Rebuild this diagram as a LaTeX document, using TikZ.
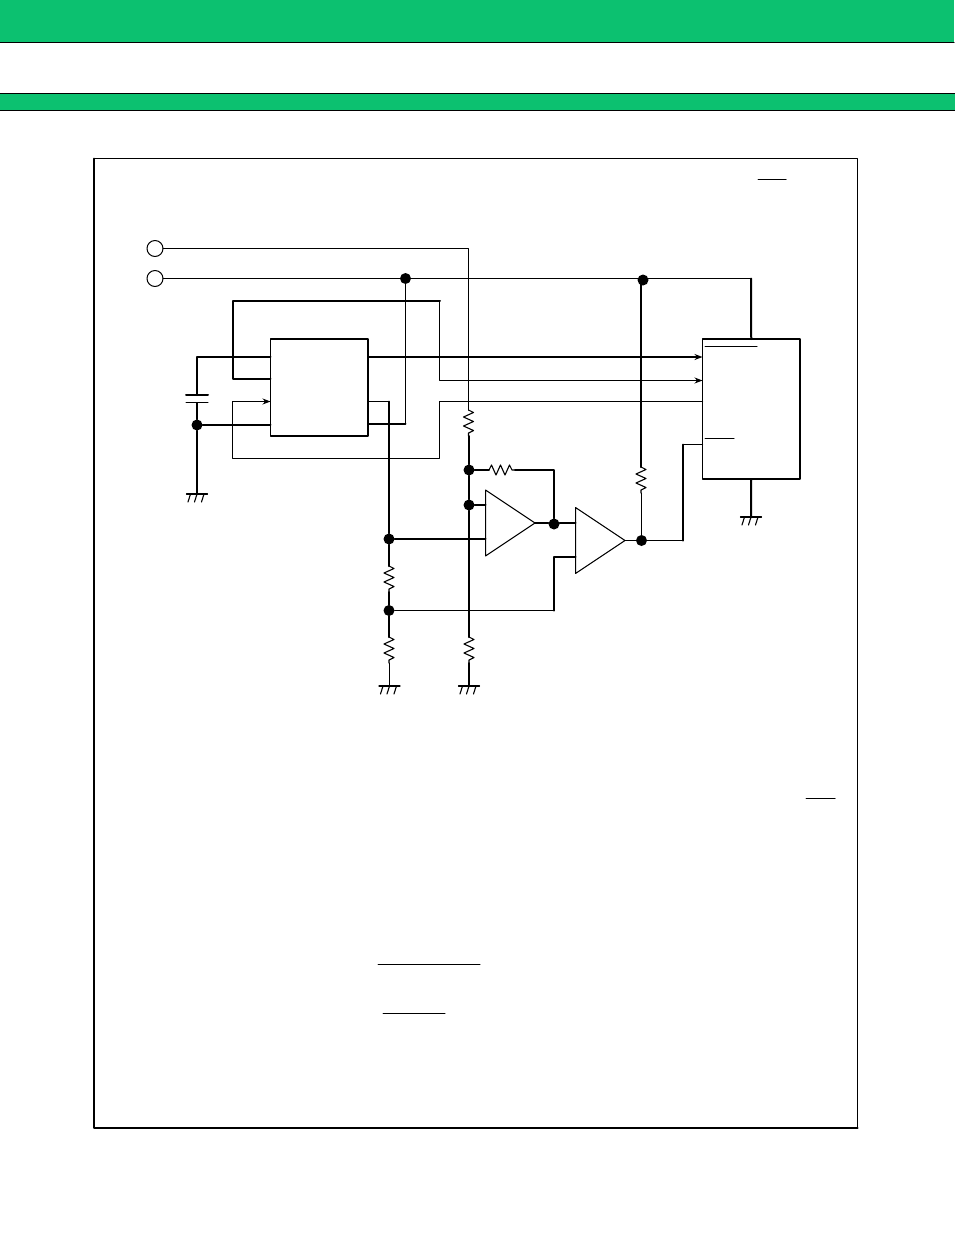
\documentclass[tikz,border=0pt]{standalone}
\usetikzlibrary{arrows.meta}
\definecolor{bandgreen}{RGB}{12,193,112}
\tikzset{
	wire/.style={line width=1pt},
	bus/.style={line width=2pt},
	dot/.style={circle,fill=black,inner sep=0pt,minimum size=11pt},
	term/.style={circle,draw,line width=1pt,inner sep=0pt,outer sep=0pt,minimum size=16pt},
	blockbox/.style={draw,line width=1.6pt,inner sep=0pt,outer sep=0pt,anchor=north west},
	res/.pic={
		\draw[line width=1.1pt] (0,0) -- (5,2.5) -- (-5,7) -- (5,11.5) -- (-5,16) -- (5,20.5) -- (0,23) -- (0,26);
	},
	gnd/.pic={
		\draw[line width=1.3pt] (-10.5,0) -- (10.5,0);
		\draw[line width=1.1pt] (-6.5,0) -- (-9,8) (0,0) -- (-2.5,8) (7,0) -- (4.5,8);
	},
	amp/.pic={
		\draw[line width=1pt] (0,-33) -- (49.5,0) -- (0,33) -- cycle;
	}
}
\begin{document}
\begin{tikzpicture}[x=1pt,y=-1pt,line join=round,line cap=round,>={Stealth[length=8pt,width=6pt]}]
	\useasboundingbox (0,0) rectangle (954,1235);
	% bands and frame
	\fill[bandgreen] (0,0) rectangle (954,42);
	\draw[line width=1pt] (0,42) -- (954,42);
	\draw[line width=1pt,fill=bandgreen] (-2,93.5) rectangle (956,110);
	\draw[line width=1pt] (94,158.5) rectangle (857.5,1128);
	\draw[line width=2pt] (94,158.5) -- (94,1128) -- (857.5,1128);
	\draw[wire] (758,179) -- (786,179) (806,798.5) -- (835,798.5);
	\draw[wire] (378,964) -- (480,964) (383,1013) -- (445,1013);

	% boxes and terminals
	\node[blockbox,minimum width=97.5pt,minimum height=97pt] (ctl) at (270.5,339) {};
	\node[blockbox,minimum width=97.5pt,minimum height=140pt] (drv) at (702.5,339) {};
	\node[term] (tera) at (155,248.5) {};
	\node[term] (terb) at (155,278.5) {};
	\draw[wire] (705,346) -- (757,346) (705,438) -- (734,438);

	% junctions
	\node[dot] (dvin) at (405.5,278.5) {};
	\node[dot] (dtop) at (643,280) {};
	\node[dot] (dcap) at (197,425) {};
	\node[dot] (dfb) at (469,470) {};
	\node[dot] (dref) at (469,505) {};
	\node[dot] (dsense) at (389,539) {};
	\node[dot] (dlow) at (389,610.5) {};
	\node[dot] (dout) at (554,524) {};
	\node[dot] (dcmp) at (641.5,540.5) {};

	\coordinate (rau) at (468.5,410); \coordinate (ral) at (469,436);
	\coordinate (rbu) at (389,566); \coordinate (rbl) at (389,592);
	\coordinate (rcu) at (389,637); \coordinate (rcl) at (389.5,663);
	\coordinate (rdu) at (469,637); \coordinate (rdl) at (469,663);
	\coordinate (reu) at (641,467); \coordinate (rel) at (641.5,493);
	\coordinate (rfl) at (489,470); \coordinate (rfr) at (515,470);
	\coordinate (ga) at (197,494); \coordinate (gb) at (389.5,686);
	\coordinate (gc) at (469,686); \coordinate (gd) at (751,517);
	\coordinate (capa) at (197,395); \coordinate (capb) at (197,403);
	\coordinate (ampa) at (485.5,523); \coordinate (ampb) at (575.5,540.5);

	\path
	(rau)pic{res}
	(rbu)pic{res}
	(rcu)pic{res}
	(rdu)pic{res}
	(reu)pic{res}
	(rfl)pic[rotate=90]{res}
	(ga)pic{gnd}
	(gb)pic{gnd}
	(gc)pic{gnd}
	(gd)pic{gnd}
	(ampa)pic{amp}
	(ampb)pic{amp}
	;

	% capacitor
	\draw[bus] (186,395) -- (208,395);
	\draw[wire] (186,402.5) -- (208,402.5);
	\draw[bus] (capa) -- (197,357) -- (ctl.west |- 0,357);
	\draw[bus] (capb) -- (dcap);
	\draw[bus] (dcap) -- (ga);
	\draw[bus] (dcap) -- (ctl.west |- dcap);

	% supply lines
	\draw[wire] (tera) -- (468.5,248.5) -- (rau);
	\draw[wire] (terb) -- (dvin);
	\draw[wire] (dvin) -- (751,278.5);
	\draw[bus] (751,278.5) -- (drv.north);
	\draw[bus] (drv.south) -- (gd);
	\draw[wire] (dvin) -- (405.5,424);
	\draw[bus] (405.5,424) -- (ctl.east |- 0,424);

	% feedback loops round the control block
	\draw[bus] (ctl.west |- 0,379) -- (233,379) -- (233,301) -- (440,301);
	\draw[wire,->] (439.5,301) -- (439.5,380.5) -- (drv.west |- 0,380.5);
	\draw[bus,->] (ctl.east |- 0,357) -- (drv.west |- 0,357);
	\draw[wire,->] (drv.west |- 0,401.5) -- (439.5,401.5) -- (439.5,458.5) -- (232.5,458.5) -- (232.5,401.5) -- (ctl.west |- 0,401.5);
	\draw[wire] (ctl.east |- 0,401.5) -- (389,401.5);
	\draw[bus] (389,401.5) -- (dsense);

	% divider and reference
	\draw[bus] (dsense) -- (rbu);
	\draw[bus] (rbl) -- (dlow);
	\draw[bus] (dlow) -- (rcu);
	\draw[wire] (rcl) -- (gb);
	\draw[bus] (ral) -- (dfb);
	\draw[bus] (dfb) -- (dref);
	\draw[bus] (dref) -- (rdu);
	\draw[bus] (rdl) -- (gc);

	% comparators
	\draw[bus] (dsense) -- (ampa |- dsense);
	\draw[bus] (dref) -- (ampa |- dref);
	\draw[bus] (dfb) -- (rfl);
	\draw[bus] (rfr) -- (554,470) -- (dout);
	\draw[bus] (535,523) -- (dout.west |- 0,523);
	\draw[bus] (dout.east |- 0,523) -- (ampb |- 0,523);
	\draw[bus] (ampb |- 0,557) -- (554,557) -- (554,610.5);
	\draw[wire] (554,610.5) -- (dlow);
	\draw[wire] (625,540.5) -- (dcmp);
	\draw[wire] (dcmp) -- (683,540.5);
	\draw[bus] (683,540.5) -- (683,444.5);
	\draw[wire] (683,444.5) -- (drv.west |- 0,444.5);
	\draw[wire] (dcmp) -- (rel);
	\draw[bus] (reu) -- (641,280);
\end{tikzpicture}
\end{document}
